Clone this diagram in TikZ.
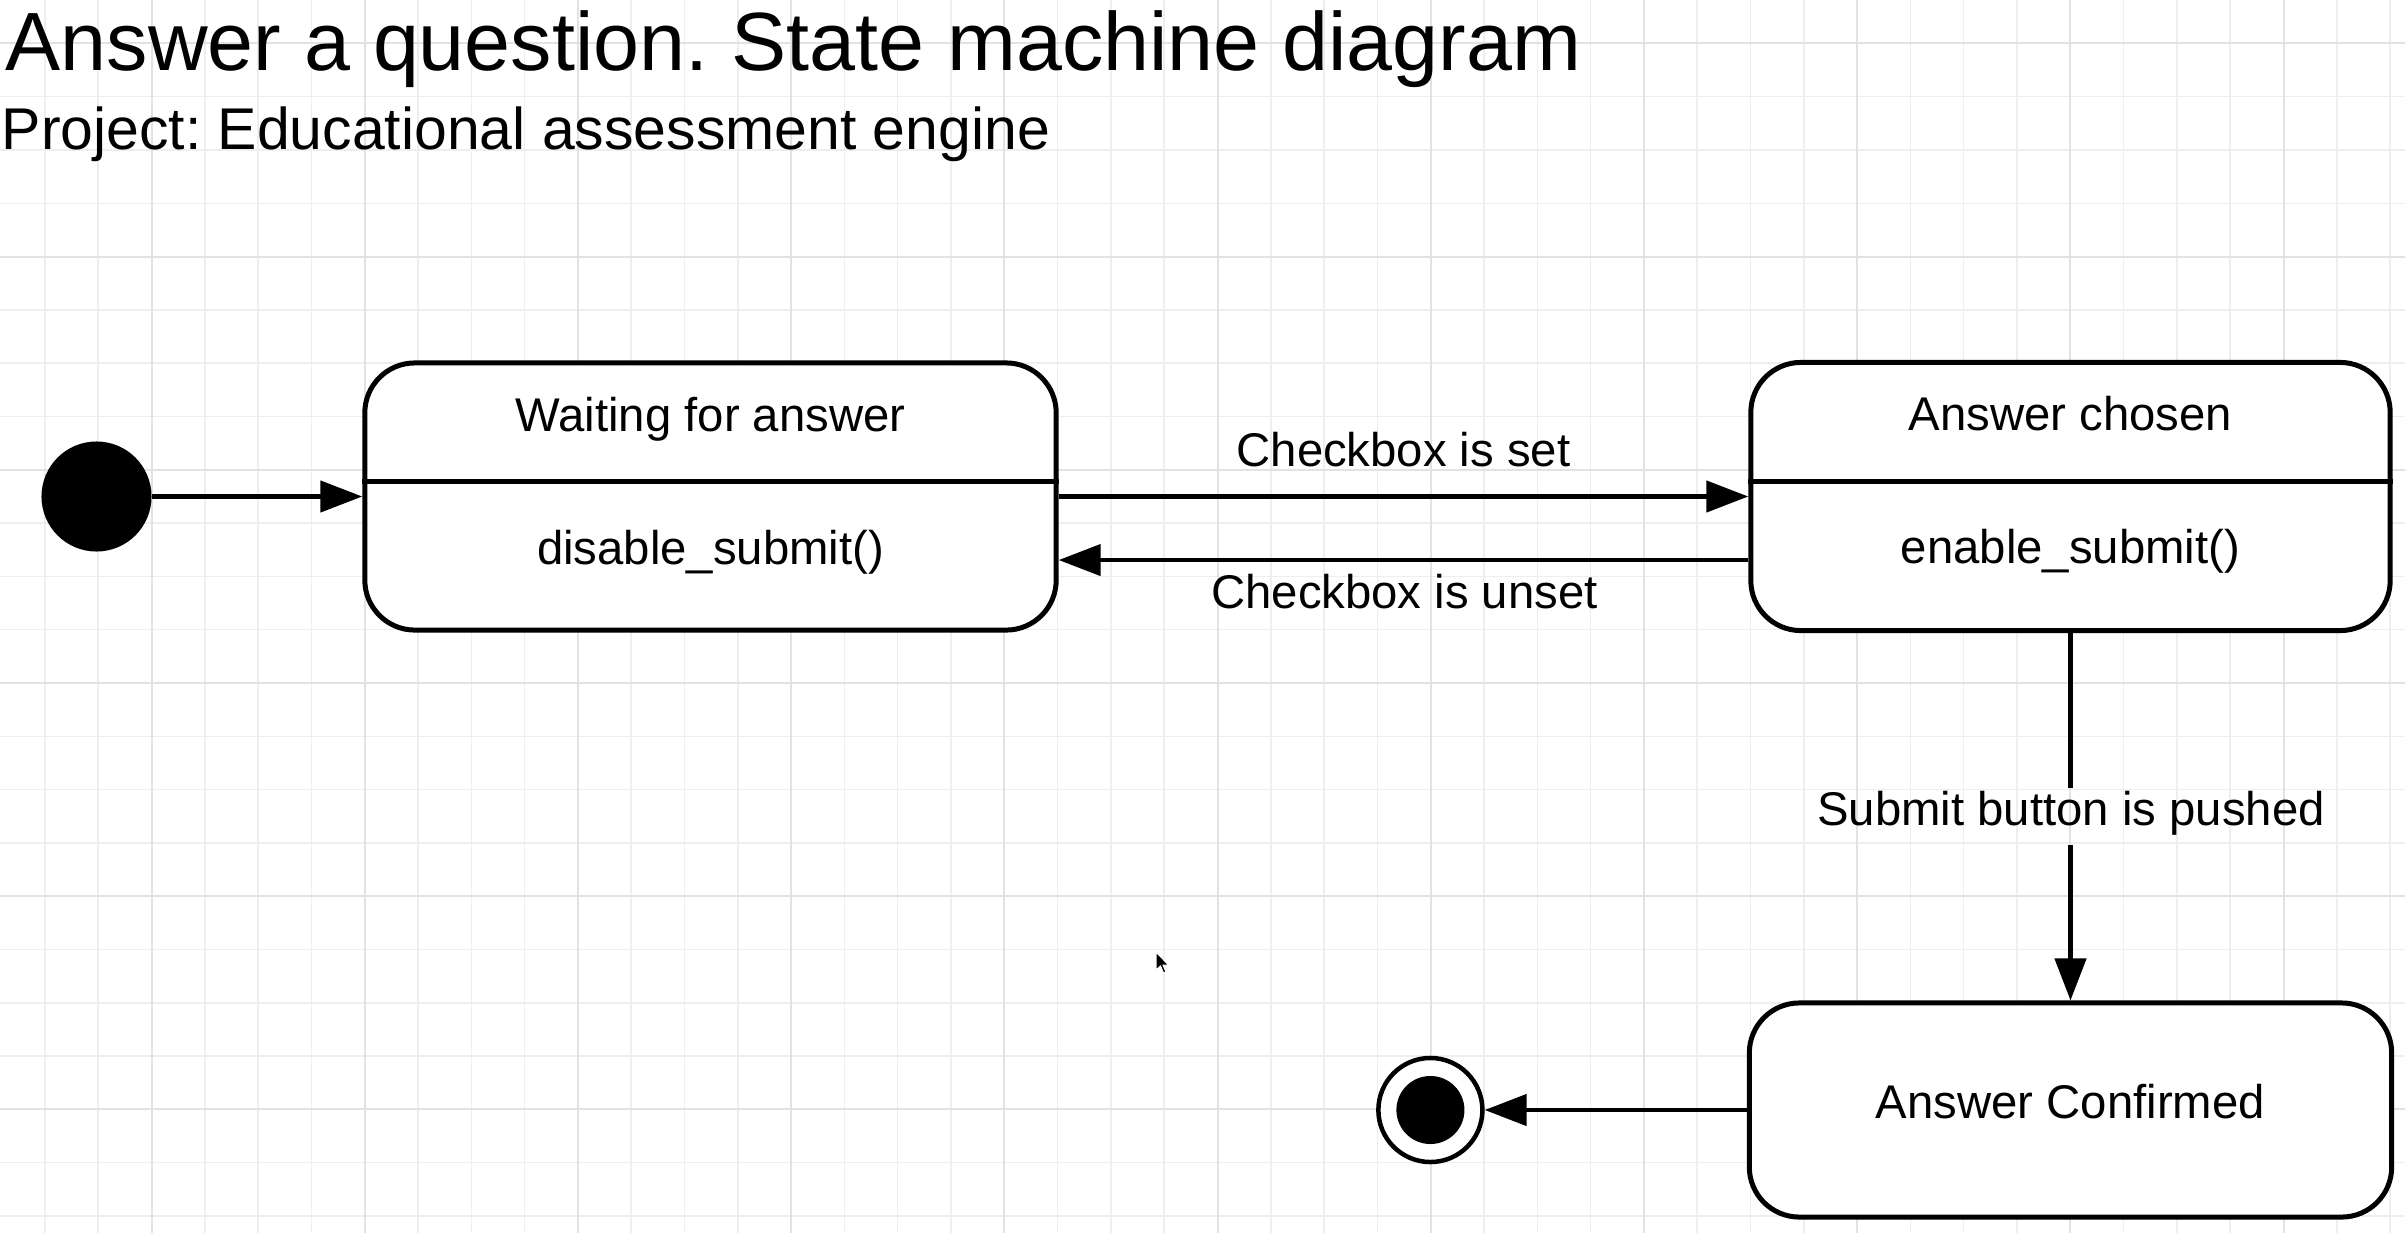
\documentclass[tikz,border=0pt]{standalone}
\usepackage{fontspec}
\setmainfont{Liberation Sans}
\usetikzlibrary{arrows.meta}
\definecolor{gridminor}{HTML}{EEEEEE}
\definecolor{gridmajor}{HTML}{E2E2E2}
\frenchspacing
\begin{document}
\begin{tikzpicture}[x=0.01cm,y=-0.01cm,
  minorgrid/.style={draw=gridminor, line width=0.015cm},
  majorgrid/.style={draw=gridmajor, line width=0.02cm},
  statebox/.style={draw, line width=0.05cm, rounded corners=0.5cm, fill=white, inner sep=0},
  lbl/.style={font=\fontsize{13.45}{16}\selectfont, inner sep=0, anchor=base},
  arr/.style={line width=0.045cm, -{Triangle[length=0.42cm,width=0.31cm]}},
  plain/.style={line width=0.045cm}]
\fill[white] (0,0) rectangle (2405,1233);
\useasboundingbox (0,0) rectangle (2405,1233);
% grid
\foreach \k in {-2,...,42} \draw[minorgrid] ({151.5+53.3*\k},0) -- ({151.5+53.3*\k},1233);
\foreach \k in {0,...,22} \draw[minorgrid] (0,{43.4+53.3*\k}) -- (2405,{43.4+53.3*\k});
\foreach \k in {0,...,10} \draw[majorgrid] ({151.5+213.2*\k},0) -- ({151.5+213.2*\k},1233);
\foreach \k in {0,...,5} \draw[majorgrid] (0,{43.4+213.2*\k}) -- (2405,{43.4+213.2*\k});
% titles
\node[font=\fontsize{23.5}{28}\selectfont, anchor=base west, inner sep=0] (title) at (5,70.5) {Answer a question. State machine diagram};
\node[font=\fontsize{16.76}{20}\selectfont, anchor=base west, inner sep=0] (sub) at (1,149) {Project: Educational assessment engine};
% states
\node[statebox, minimum width=6.91cm, minimum height=2.67cm] (box1) at (710.5,496.5) {};
\node[statebox, minimum width=6.39cm, minimum height=2.68cm] (box2) at (2070.5,496.5) {};
\node[statebox, minimum width=6.42cm, minimum height=2.14cm] (box3) at (2070.5,1110) {};
\draw[line width=0.05cm] ([yshift=0.15cm]box1.west) -- ([yshift=0.15cm]box1.east);
\draw[line width=0.05cm] ([yshift=0.15cm]box2.west) -- ([yshift=0.15cm]box2.east);
\node[lbl] (t1) at (710.5,431) {Waiting for answer};
\node[lbl] (a1) at (710.5,564) {disable\_submit()};
\node[lbl] (t2) at (2070.5,430) {Answer chosen};
\node[lbl] (a2) at (2070.5,563) {enable\_submit()};
\node[lbl] (t3) at (2070.5,1118) {Answer Confirmed};
% pseudo states
\node[circle, fill=black, minimum size=1.1cm, inner sep=0] (init) at (96.5,496.5) {};
\node[circle, draw, line width=0.045cm, fill=white, minimum size=1.04cm, inner sep=0] (final) at (1430.4,1110) {};
\node[circle, fill=black, minimum size=0.68cm, inner sep=0] (finaldot) at (final) {};
% transitions
\draw[arr] (init) -- (box1);
\draw[arr] (box1.east) -- (box2.west);
\node[lbl] (l1) at (1403.5,466.7) {Checkbox is set};
\draw[arr] ([yshift=-0.635cm]box2.west) -- ([yshift=-0.635cm]box1.east);
\node[lbl] (l2) at (1404.5,608) {Checkbox is unset};
\node[lbl] (l3) at (2071,825) {Submit button is pushed};
\coordinate (g1) at (2070.5,788);
\coordinate (g2) at (2070.5,845);
\draw[plain] (box2.south) -- (g1);
\draw[arr] (g2) -- (box3.north);
\draw[arr] (box3.west) -- (final.east);
% mouse cursor
\fill[black, draw=white, line width=0.01cm, shift={(1156,952)}] (0,0) -- (0,18) -- (4.5,14) -- (7.5,21) -- (10,20) -- (7,13) -- (12.5,13) -- cycle;
\end{tikzpicture}
\end{document}
